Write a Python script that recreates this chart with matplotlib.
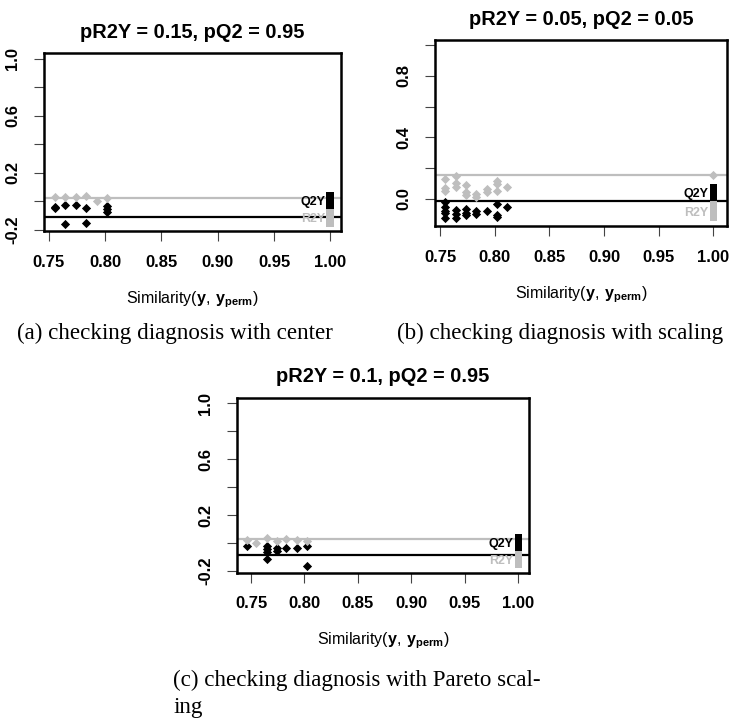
import numpy as np
import matplotlib
matplotlib.use('Agg')
import matplotlib.pyplot as plt

plt.rcParams['font.family'] = ['Liberation Sans', 'DejaVu Sans']
plt.rcParams['mathtext.fontset'] = 'custom'
plt.rcParams['mathtext.rm'] = 'Liberation Sans'
plt.rcParams['mathtext.bf'] = 'Liberation Sans:bold'

GREY = '#bebebe'

# (a) centering
a_title = 'pR2Y = 0.15, pQ2 = 0.95'
a_q2_sim = [0.755, 0.755, 0.764, 0.764, 0.774, 0.783, 0.783, 0.802, 0.802, 0.802]
a_q2 = [-0.038, -0.05, -0.026, -0.162, -0.026, -0.05, -0.15, -0.033, -0.054, -0.075]
a_r2_sim = [0.755, 0.764, 0.774, 0.783, 0.793, 0.802]
a_r2 = [0.033, 0.03, 0.03, 0.038, 0.0, 0.02]
a_model = [0.021, -0.108]          # R2Y, Q2Y of the real model
a_bar = [-0.178, -0.054, 0.068]    # legend bar edges

# (b) scaling
b_title = 'pR2Y = 0.05, pQ2 = 0.05'
b_q2_sim = [0.755, 0.755, 0.755, 0.755, 0.755, 0.765, 0.765, 0.765, 0.774, 0.774, 0.774,
            0.783, 0.783, 0.793, 0.802, 0.802, 0.802, 0.811]
b_q2 = [-0.017, -0.05, -0.076, -0.093, -0.126, -0.071, -0.097, -0.126, -0.067, -0.089, -0.104,
        -0.078, -0.1, -0.078, -0.035, -0.104, -0.115, -0.054]
b_r2_sim = [0.755, 0.755, 0.755, 0.765, 0.765, 0.765, 0.774, 0.774, 0.774, 0.783, 0.783,
            0.793, 0.793, 0.802, 0.802, 0.802, 0.811, 1.0]
b_r2 = [0.128, 0.069, 0.054, 0.149, 0.106, 0.076, 0.091, 0.048, 0.026, 0.032, 0.015,
        0.063, 0.048, 0.117, 0.095, 0.054, 0.080, 0.158]
b_model = [0.158, -0.013]
b_bar = [-0.14, -0.013, 0.097]

# (c) Pareto scaling
c_title = 'pR2Y = 0.1, pQ2 = 0.95'
c_q2_sim = [0.746, 0.765, 0.765, 0.765, 0.765, 0.774, 0.774, 0.783, 0.793, 0.802, 0.802]
c_q2 = [-0.019, -0.024, -0.043, -0.064, -0.112, -0.036, -0.055, -0.036, -0.036, -0.024, -0.166]
c_r2_sim = [0.746, 0.755, 0.765, 0.774, 0.783, 0.793, 0.802]
c_r2 = [0.024, 0.0, 0.036, 0.012, 0.028, 0.024, 0.012]
c_model = [0.0285, -0.083]
c_bar = [-0.178, -0.059, 0.0665]

x_ticks = [0.75, 0.80, 0.85, 0.90, 0.95, 1.00]
y_ticks = [-0.2, 0.0, 0.2, 0.4, 0.6, 0.8, 1.0]
y_labels_ac = ['-0.2', '', '0.2', '', '0.6', '', '1.0']
y_ticks_b = [0.0, 0.2, 0.4, 0.6, 0.8, 1.0]
y_labels_b = ['0.0', '', '0.4', '', '0.8', '']

W, H = 729, 724
fig = plt.figure(figsize=(W / 100, H / 100), dpi=100)


def add_ax(left, top, right, bottom):
    return fig.add_axes([left / W, 1 - bottom / H, (right - left) / W, (bottom - top) / H])


def perm_plot(ax, title, q2_sim, q2, r2_sim, r2, model, bar, xlim, ylim, yt, ytl):
    ax.scatter(q2_sim, q2, marker='D', s=22, color='black', lw=0, zorder=3)
    ax.scatter(r2_sim, r2, marker='D', s=22, color=GREY, lw=0, zorder=3)
    ax.axhline(model[0], color=GREY, lw=1.6, zorder=2)
    ax.axhline(model[1], color='black', lw=1.6, zorder=2)
    # legend bars
    ax.bar(1.0, bar[2] - bar[1], bottom=bar[1], width=0.007, color='black', zorder=4)
    ax.bar(1.0, bar[1] - bar[0], bottom=bar[0], width=0.007, color=GREY, zorder=4)
    ax.text(0.9955, (bar[1] + bar[2]) / 2 - 0.012, 'Q2Y', ha='right', va='center',
            fontsize=9, fontweight='bold', color='black', zorder=5)
    ax.text(0.9955, (bar[0] + bar[1]) / 2 - 0.012, 'R2Y', ha='right', va='center',
            fontsize=9, fontweight='bold', color=GREY, zorder=5)
    ax.set_xlim(xlim)
    ax.set_ylim(ylim)
    ax.set_xticks(x_ticks)
    ax.set_xticklabels(['%.2f' % v for v in x_ticks], fontweight='bold')
    ax.set_yticks(yt)
    ax.set_yticklabels(ytl, fontweight='bold', rotation=90, va='center')
    ax.tick_params(labelsize=12, length=7, width=0.8, color='#444444', pad=10)
    for s in ax.spines.values():
        s.set_linewidth(1.8)
    ax.set_title(title, fontsize=14.4, fontweight='bold', pad=11)
    ax.set_xlabel(r'Similarity$(\mathbf{y},\,\mathbf{y}_{\mathbf{perm}})$', fontsize=11.5, labelpad=14)


ax_a = add_ax(44, 53, 341, 231)
perm_plot(ax_a, a_title, a_q2_sim, a_q2, a_r2_sim, a_r2, a_model, a_bar,
          (0.7456, 1.0095), (-0.209, 1.042), y_ticks, y_labels_ac)

ax_b = add_ax(435.3, 40, 726.7, 226)
perm_plot(ax_b, b_title, b_q2_sim, b_q2, b_r2_sim, b_r2, b_model, b_bar,
          (0.7457, 1.0122), (-0.175, 1.032), y_ticks_b, y_labels_b)

ax_c = add_ax(236.7, 397.7, 529.3, 572.7)
perm_plot(ax_c, c_title, c_q2_sim, c_q2, c_r2_sim, c_r2, c_model, c_bar,
          (0.7366, 1.0103), (-0.212, 1.040), y_ticks, y_labels_ac)

serif = ['Liberation Serif', 'DejaVu Serif']
fig.text(175 / W, 1 - 333 / H, '(a) checking diagnosis with center', ha='center', va='center',
         fontsize=16.6, family=serif)
fig.text(560 / W, 1 - 333 / H, '(b) checking diagnosis with scaling', ha='center', va='center',
         fontsize=16.6, family=serif)
fig.text(173 / W, 1 - 680 / H, '(c) checking diagnosis with Pareto scal-', ha='left', va='center',
         fontsize=16.6, family=serif)
fig.text(173 / W, 1 - 708 / H, 'ing', ha='left', va='center', fontsize=16.6, family=serif)

fig.savefig('out.png', dpi=100)
